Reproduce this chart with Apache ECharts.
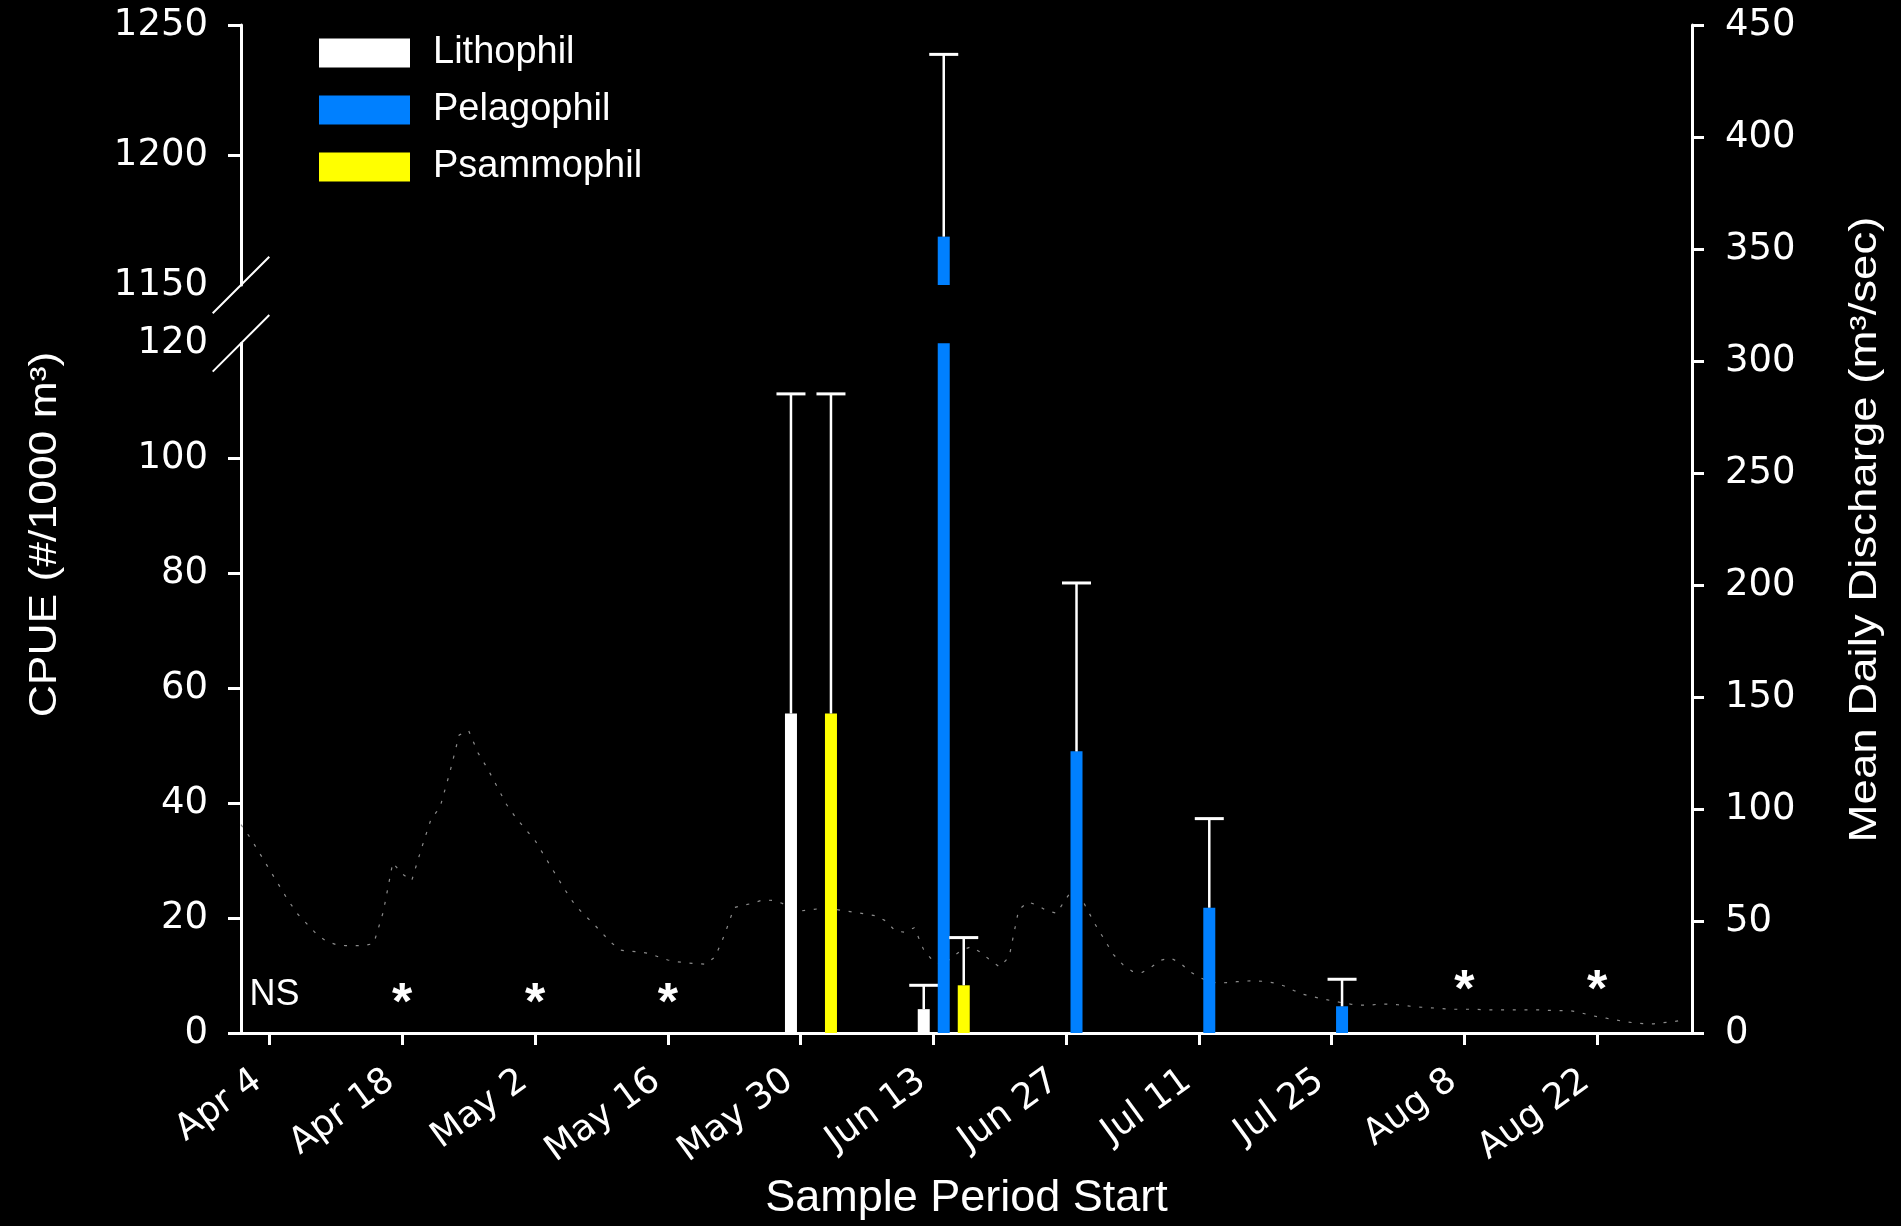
<!DOCTYPE html>
<html>
<head>
<meta charset="utf-8">
<title>Larval fish CPUE by reproductive guild and mean daily discharge</title>
<script src="https://cdn.jsdelivr.net/npm/echarts@6/dist/echarts.min.js"></script>
<style>
  html, body { margin: 0; padding: 0; background: #000; }
  #chart { width: 1901px; height: 1226px; }
</style>
</head>
<body>
<div id="chart"></div>
<script>
// ---- Sample periods: start-date labels and their offset in days from Apr 1 ----
const periodLabels   = ['Apr 4', 'Apr 18', 'May 2', 'May 16', 'May 30', 'Jun 13', 'Jun 27', 'Jul 11', 'Jul 25', 'Aug 8', 'Aug 22'];
const periodStartDay = [3, 17, 31, 45, 59, 73, 87, 101, 115, 129, 143];
// NS = not sampled, * = sampled but nothing caught
const periodNotes    = ['NS', '*', '*', '*', '', '', '', '', '', '*', '*'];

// ---- Mean CPUE (#/1000 m3) and standard error, per guild and sample period ----
const lithophilMean  = [null, null, null, null, 55.6, 4.15, null, null, null, null, null];
const lithophilSE    = [null, null, null, null, 55.6, 4.15, null, null, null, null, null];
const pelagophilMean = [null, null, null, null, null, 1168.6, 49.0, 21.8, 4.65, null, null];
const pelagophilSE   = [null, null, null, null, null, 70.1, 29.3, 15.5, 4.7, null, null];
const psammophilMean = [null, null, null, null, 55.6, 8.3, null, null, null, null, null];
const psammophilSE   = [null, null, null, null, 55.6, 8.3, null, null, null, null, null];

// ---- Mean daily discharge (m3/sec), one value per day, Apr 1 .. Aug 31 ----
const dischargeDaily = [
  93, 87, 80, 73, 66, 59, 53, 48.5, 44, 41,
  39.5, 39, 39, 39, 40, 54, 76, 71, 68, 82,
  95, 101, 116, 133, 135, 125, 118, 110, 102, 96,
  91, 86, 79, 72, 65, 58.5, 53.5, 49.5, 45, 40.5,
  37, 36.5, 36.2, 35.5, 34, 32.6, 31.8, 31.3, 31, 30.7,
  34, 44, 56, 57, 58, 59.4, 59.2, 58, 56, 54.5,
  55, 55.5, 55.5, 55, 54.3, 53.7, 53, 52.3, 50, 45.5,
  45, 47, 37, 32, 30, 34, 37, 38.5, 36, 32.5,
  29.5, 34, 55, 58.5, 57, 54.5, 53.5, 60, 66, 57,
  49, 42, 35, 30.5, 27.5, 27, 29.5, 32.5, 33.5, 31.4,
  27.5, 25, 23, 22.3, 22.5, 22.9, 23.2, 23.3, 23, 22.3,
  21, 19, 17.3, 16.2, 15.3, 14.4, 13.6, 12.9, 12.4, 12.4,
  12.9, 12.9, 12.6, 12.1, 11.6, 11.4, 11.1, 10.8, 10.6, 10.6,
  10.6, 10.4, 10.3, 10.3, 10.3, 10.3, 10.3, 10.3, 10.1, 10,
  10, 9.4, 8.2, 7.3, 6.6, 5.8, 5, 4.5, 4.1, 4.1,
  4.6, 5, 5.8
];

// ---- Axis ranges ----
const X_MIN = 0, X_MAX = 153;                       // Apr 1 .. Sep 1
const CPUE_UPPER = { min: 1150, max: 1250, interval: 50 };
const CPUE_LOWER = { min: 0, max: 120, interval: 20 };
const DISCHARGE  = { min: 0, max: 450, interval: 50 };

// ---- Drawing constants ----
const FG = '#ffffff';
const TICK_FONT = 'DejaVu Sans';
const TEXT_FONT = 'Liberation Sans';
const BAR_W = 12, SLOT_PX = 20, GROUP_SHIFT_DAYS = 1.1;
const STEM_W = 2.5, CAP_W = 29, CAP_LW = 3;

const GUILDS = [
  { name: 'Lithophil',  color: '#ffffff', mean: lithophilMean,  se: lithophilSE,  slot: -1 },
  { name: 'Pelagophil', color: '#0080ff', mean: pelagophilMean, se: pelagophilSE, slot: 0 },
  { name: 'Psammophil', color: '#ffff00', mean: psammophilMean, se: psammophilSE, slot: 1 }
];

function ticksBetween(r, skipMin, skipMax) {
  const out = [];
  for (let v = r.min; v <= r.max + 1e-9; v += r.interval) {
    if ((skipMin && v === r.min) || (skipMax && v === r.max)) continue;
    out.push(v);
  }
  return out;
}

// Bar plus upper standard-error whisker, clipped to one segment of the broken axis
function renderGuildItem(api, g, rng) {
  const day = api.value(0) + GROUP_SHIFT_DAYS;
  const mean = api.value(1);
  const top = mean + api.value(2);
  const clamp = v => Math.max(rng.min, Math.min(rng.max, v));
  const px = v => api.coord([day, clamp(v)]);
  const cx = px(rng.min)[0] + g.slot * SLOT_PX;
  const children = [];
  if (mean > rng.min) {
    const yBase = px(rng.min)[1], yTop = px(mean)[1];
    children.push({ type: 'rect', shape: { x: cx - BAR_W / 2, y: yTop, width: BAR_W, height: yBase - yTop },
                    style: { fill: g.color } });
  }
  const s0 = Math.max(mean, rng.min), s1 = Math.min(top, rng.max);
  if (s1 > s0) {
    children.push({ type: 'line', shape: { x1: cx, y1: px(s0)[1], x2: cx, y2: px(s1)[1] },
                    style: { stroke: FG, lineWidth: STEM_W } });
  }
  if (top > mean && top >= rng.min && top <= rng.max) {
    const yc = px(top)[1];
    children.push({ type: 'line', shape: { x1: cx - CAP_W / 2, y1: yc, x2: cx + CAP_W / 2, y2: yc },
                    style: { stroke: FG, lineWidth: CAP_LW } });
  }
  return { type: 'group', children };
}

const series = [];

// Discharge trace (right axis)
series.push({
  type: 'line', name: 'Discharge', xAxisIndex: 2, yAxisIndex: 2,
  data: dischargeDaily.map((v, i) => [i, v]),
  showSymbol: false, symbol: 'none', silent: true, z: 1,
  lineStyle: { color: '#8c8c8c', width: 1.2, type: [3, 8.7] }
});

// Guild bars in both panels of the broken CPUE axis
GUILDS.forEach(g => {
  const data = periodStartDay.map((d, i) => [d, g.mean[i], g.se[i]]).filter(r => r[1] != null);
  [[0, CPUE_UPPER], [1, CPUE_LOWER]].forEach(([gi, rng]) => {
    series.push({
      type: 'custom', name: g.name, xAxisIndex: gi, yAxisIndex: gi,
      data, encode: { x: 0, y: 1 }, itemStyle: { color: g.color },
      clip: false, z: 3, silent: true,
      renderItem: (params, api) => renderGuildItem(api, g, rng)
    });
  });
});

// Period notes (NS / *) just above the baseline
series.push({
  type: 'custom', xAxisIndex: 1, yAxisIndex: 1, silent: true, z: 4, clip: false,
  data: periodStartDay.map((d, i) => [d, 0, i]).filter(r => periodNotes[r[2]]),
  encode: { x: 0, y: 1 },
  renderItem: (params, api) => {
    const idx = api.value(2);
    const note = periodNotes[idx];
    const p = api.coord([api.value(0), 0]);
    const star = note === '*';
    // late-season markers sit a little higher, clear of the discharge trace
    const lift = star ? (idx >= 9 ? 41 : 28) : 38;
    return {
      type: 'text', x: p[0] + (star ? 0 : 5), y: p[1] - lift,
      style: {
        text: note, fill: FG,
        font: star ? 'bold 52px "Liberation Sans"' : '36px "Liberation Sans"',
        align: 'center', verticalAlign: 'middle',
        textAlign: 'center', textVerticalAlign: 'middle'
      }
    };
  }
});

const axisLineStyle = { color: FG, width: 3 };
const tickLabel = { color: FG, fontFamily: TICK_FONT, fontSize: 37 };

const chart = echarts.init(document.getElementById('chart'), null, { renderer: 'canvas', width: 1901, height: 1226 });

const gridBase = { left: 241, right: 209, containLabel: false, outerBoundsMode: 'none' };

chart.setOption({
  backgroundColor: '#000',
  animation: false,
  textStyle: { fontFamily: TEXT_FONT, color: FG },
  grid: [
    { ...gridBase, top: 25, height: 260 },
    { ...gridBase, top: 343.3, bottom: 193 },
    { ...gridBase, top: 25, bottom: 193 }
  ],
  legend: {
    orient: 'vertical', left: 319, top: 34, padding: 0,
    itemWidth: 91, itemHeight: 29, itemGap: 19, icon: 'rect',
    selectedMode: false,
    data: GUILDS.map(g => ({ name: g.name, icon: 'rect', itemStyle: { color: g.color } })),
    textStyle: { color: FG, fontFamily: TEXT_FONT, fontSize: 38, lineHeight: 29, padding: [0, 0, 0, 18] }
  },
  xAxis: [
    { gridIndex: 0, type: 'value', min: X_MIN, max: X_MAX, show: false },
    {
      gridIndex: 1, type: 'value', min: X_MIN, max: X_MAX,
      splitLine: { show: false },
      axisLine: { show: true, onZero: false, lineStyle: axisLineStyle },
      axisTick: { show: true, customValues: periodStartDay, length: 12, lineStyle: axisLineStyle },
      axisLabel: {
        customValues: periodStartDay,
        formatter: v => periodLabels[periodStartDay.indexOf(v)],
        rotate: 36, margin: 36, padding: [0, 14, 0, 0],
        color: FG, fontFamily: TICK_FONT, fontSize: 36
      },
      name: 'Sample Period Start', nameLocation: 'middle', nameGap: 129,
      nameTextStyle: { color: FG, fontFamily: TEXT_FONT, fontSize: 45 }
    },
    { gridIndex: 2, type: 'value', min: X_MIN, max: X_MAX, show: false }
  ],
  yAxis: [
    {
      gridIndex: 0, type: 'value', position: 'left', ...CPUE_UPPER,
      splitLine: { show: false },
      axisLine: { show: true, onZero: false, lineStyle: axisLineStyle },
      axisTick: { show: true, customValues: ticksBetween(CPUE_UPPER, true, false), length: 13, lineStyle: axisLineStyle },
      axisLabel: { margin: 33, formatter: v => String(v), ...tickLabel }
    },
    {
      gridIndex: 1, type: 'value', position: 'left', ...CPUE_LOWER,
      splitLine: { show: false },
      axisLine: { show: true, onZero: false, lineStyle: axisLineStyle },
      axisTick: { show: true, customValues: ticksBetween(CPUE_LOWER, false, true), length: 13, lineStyle: axisLineStyle },
      axisLabel: { margin: 33, formatter: v => String(v), ...tickLabel }
    },
    {
      gridIndex: 2, type: 'value', position: 'right', ...DISCHARGE,
      splitLine: { show: false },
      axisLine: { show: true, onZero: false, lineStyle: axisLineStyle },
      axisTick: { show: true, length: 12, lineStyle: axisLineStyle },
      axisLabel: { margin: 33, formatter: v => String(v), ...tickLabel }
    }
  ],
  series
});

// Axis titles and the break marks on the CPUE axis
const breakHi = chart.convertToPixel({ gridIndex: 0 }, [X_MIN, CPUE_UPPER.min]);
const breakLo = chart.convertToPixel({ gridIndex: 1 }, [X_MIN, CPUE_LOWER.max]);
const slash = (p) => ({
  type: 'line', silent: true,
  shape: { x1: p[0] - 28.3, y1: p[1] + 28.3, x2: p[0] + 28.3, y2: p[1] - 28.3 },
  style: { stroke: FG, lineWidth: 2 }
});

chart.setOption({
  graphic: [
    slash(breakHi),
    slash(breakLo),
    {
      type: 'text', x: 46, y: 534.5, rotation: Math.PI / 2, scaleX: 1.17, silent: true,
      style: { text: 'CPUE (#/1000 m\u00B3)', fill: FG, font: '38px "Liberation Sans"',
               align: 'center', verticalAlign: 'middle', textAlign: 'center', textVerticalAlign: 'middle' }
    },
    {
      type: 'text', x: 1866, y: 529.5, rotation: Math.PI / 2, scaleX: 1.2, silent: true,
      style: { text: 'Mean Daily Discharge (m\u00B3/sec)', fill: FG, font: '38px "Liberation Sans"',
               align: 'center', verticalAlign: 'middle', textAlign: 'center', textVerticalAlign: 'middle' }
    }
  ]
});
</script>
</body>
</html>
